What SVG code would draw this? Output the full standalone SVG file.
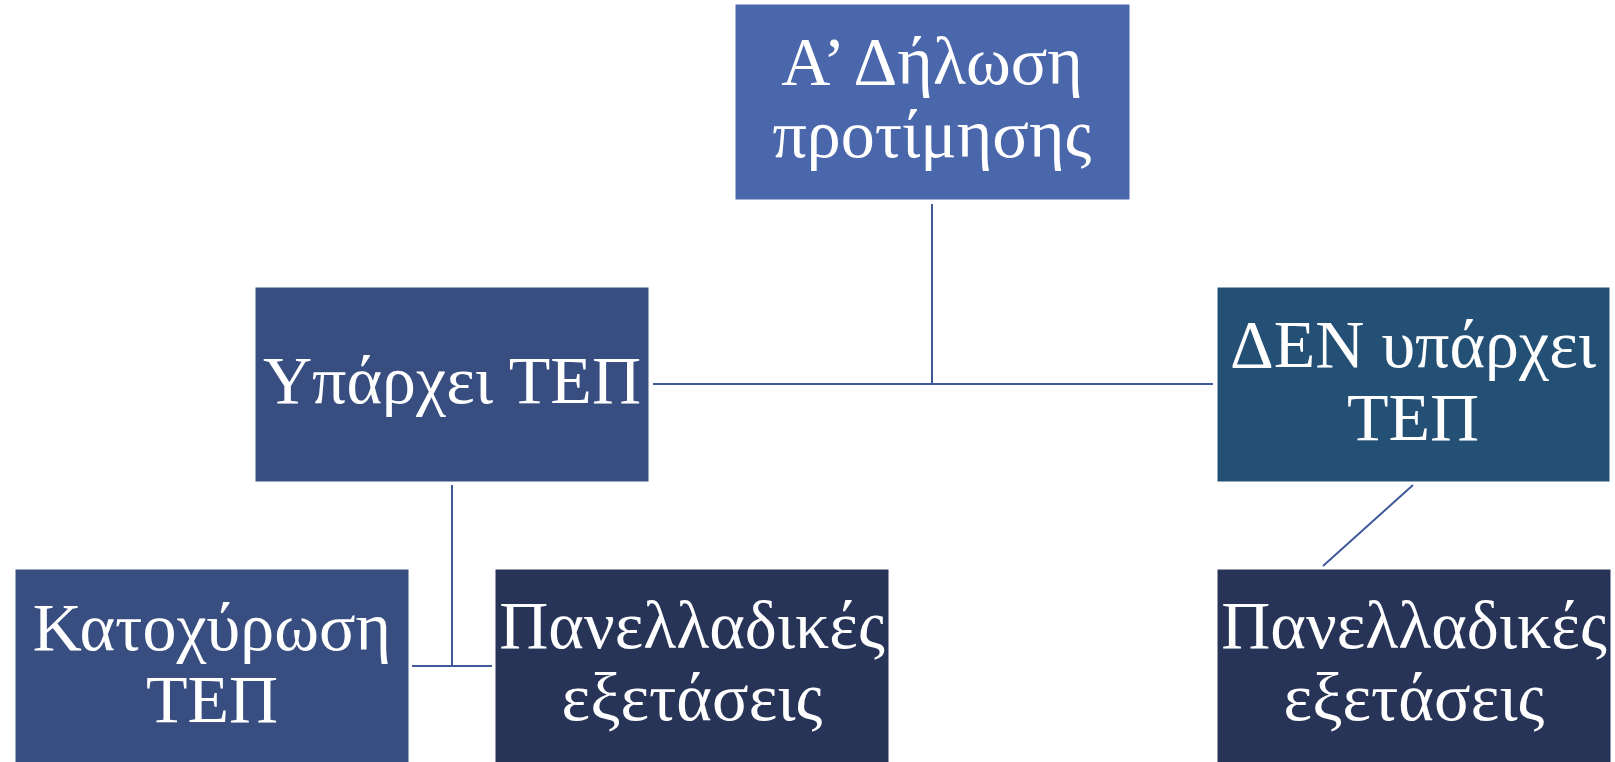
<svg xmlns="http://www.w3.org/2000/svg" width="1615" height="762" viewBox="0 0 1615 762">
<style>
.box{stroke:#ffffff;stroke-width:1}
.t{font-family:"Liberation Serif","DejaVu Serif",serif;font-size:68px;fill:#ffffff;text-anchor:middle}
.c{stroke:#3f5a9c;stroke-width:2;fill:none}
</style>
<rect width="1615" height="762" fill="#ffffff"/>
<g id="connectors">
<line class="c" x1="932" y1="204" x2="932" y2="384"/>
<line class="c" x1="653" y1="384" x2="1213" y2="384"/>
<line class="c" x1="452" y1="485" x2="452" y2="666"/>
<line class="c" x1="412" y1="666" x2="492" y2="666"/>
<line class="c" x1="1413" y1="485" x2="1323" y2="566"/>
</g>
<g id="node-top">
<rect class="box" x="735" y="4" width="395" height="196" fill="#4a67ac"/>
<text class="t" x="932" y="84">Α’ Δήλωση</text>
<text class="t" x="932" y="157">προτίμησης</text>
</g>
<g id="node-yes">
<rect class="box" x="255" y="287" width="394" height="195" fill="#394e80"/>
<text class="t" x="452" y="403">Υπάρχει ΤΕΠ</text>
</g>
<g id="node-no">
<rect class="box" x="1217" y="287" width="393" height="195" fill="#255076"/>
<text class="t" x="1413" y="367">ΔΕΝ υπάρχει</text>
<text class="t" x="1413" y="440">ΤΕΠ</text>
</g>
<g id="node-kat">
<rect class="box" x="15" y="569" width="394" height="200" fill="#394e80"/>
<text class="t" x="212" y="650">Κατοχύρωση</text>
<text class="t" x="212" y="722">ΤΕΠ</text>
</g>
<g id="node-pan1">
<rect class="box" x="495" y="569" width="394" height="200" fill="#273458"/>
<text class="t" x="692" y="648">Πανελλαδικές</text>
<text class="t" x="692" y="720">εξετάσεις</text>
</g>
<g id="node-pan2">
<rect class="box" x="1217" y="569" width="394" height="200" fill="#273458"/>
<text class="t" x="1414" y="648">Πανελλαδικές</text>
<text class="t" x="1414" y="720">εξετάσεις</text>
</g>
</svg>
